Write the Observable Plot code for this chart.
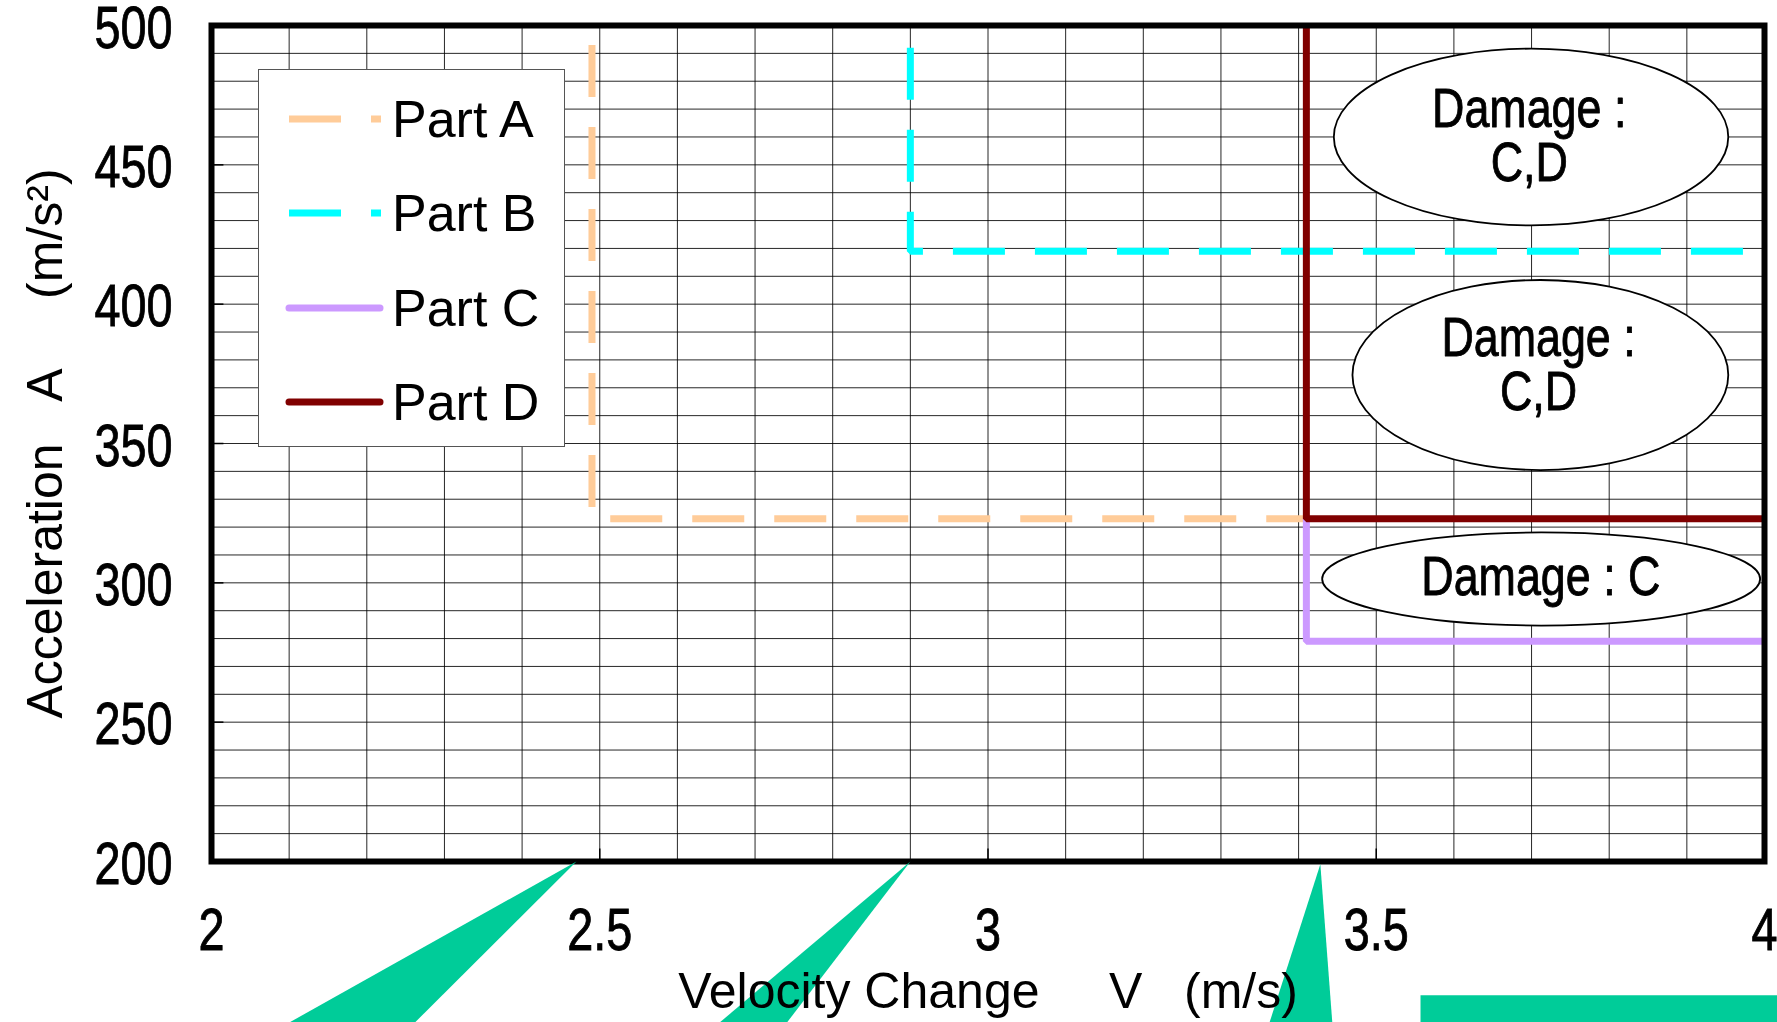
<!DOCTYPE html>
<html>
<head>
<meta charset="utf-8">
<script src="https://cdn.jsdelivr.net/npm/d3@7"></script>
<script src="https://cdn.jsdelivr.net/npm/@observablehq/plot@0.6"></script>
<style>
  html, body { margin: 0; padding: 0; background: #fff; overflow: hidden; }
  #wrap { position: relative; width: 1777px; height: 1022px; font-family: "Liberation Sans", Arial, sans-serif; }
  #legend { position: absolute; left: 258px; top: 69px; width: 307px; height: 378px; border: 1.5px solid #555; background: #fff; box-sizing: border-box; }
  .lrow { position: absolute; left: 0; width: 100%; height: 60px; }
  .lrow svg { position: absolute; left: 0; top: 0; }
  .lrow .ltxt { position: absolute; left: 133px; top: 0; height: 60px; line-height: 60px; font-size: 52px; color: #000; white-space: nowrap; }
</style>
</head>
<body>
<div id="wrap"></div>
<script>
// ---- data ----
const parts = ["Part A", "Part B", "Part C", "Part D"];
const partColors = ["#FFCC99", "#00FFFF", "#CC99FF", "#800000"];
const partDashes = ["52,30", "52,30", null, null];

const velA = [2.49, 2.49, 3.41];
const accA = [493, 323, 323];
const velB = [2.90, 2.90, 4.00];
const accB = [492, 419, 419];
const velC = [3.41, 3.41, 4.00];
const accC = [323, 279, 279];
const velD = [3.41, 3.41, 4.00];
const accD = [500, 323, 323];

const xTicks = [2, 2.5, 3, 3.5, 4];
const yTicks = [200, 250, 300, 350, 400, 450, 500];
const xTitle = "Velocity Change\u00a0\u00a0\u00a0\u00a0\u00a0V\u00a0\u00a0\u00a0(m/s)";
const yTitle = "Acceleration\u00a0\u00a0\u00a0A\u00a0\u00a0\u00a0\u00a0\u00a0(m/s\u00b2)";

// damage annotations (ellipses + labels)
const damageLabels = ["Damage :\nC,D", "Damage :\nC,D", "Damage : C"];
const labelV = [3.697, 3.709, 3.712];
const labelA = [460, 377.8, 302];
const ellipseV = [3.700, 3.712, 3.713];
const ellipseA = [459.8, 374.4, 301.2];
const ellipseRV = [0.254, 0.242, 0.282];
const ellipseRA = [31.7, 34.1, 16.7];

// green callout pointers cropped at bottom
const wedgeV = [[2.470, 2.086, 2.254], [2.900, 2.645, 2.735], [3.428, 3.360, 3.444], [3.557, 4.05, 4.05, 3.557]];
const wedgeA = [[200, 140, 140], [200, 140, 140], [199, 140, 140], [152, 152, 140, 140]];

// ---- build tables ----
const series = [[velA, accA], [velB, accB], [velC, accC], [velD, accD]];
const lineRows = parts.map((p, i) => series[i][0].map((v, j) => ({part: p, v, a: series[i][1][j]})));
const ellipses = ellipseV.map((v, i) => ({cv: v, ca: ellipseA[i], rv: ellipseRV[i], ra: ellipseRA[i]}));
const labels = damageLabels.map((t, i) => ({t, v: labelV[i], a: labelA[i]}));
const wedges = wedgeV.flatMap((vs, k) => vs.map((v, j) => ({k, v, a: wedgeA[k][j]})));

const ellipseMark = Plot.dot(ellipses, {
  x: "cv", y: "ca",
  render: (index, scales) => {
    const g = d3.create("svg:g");
    for (const i of index) {
      const d = ellipses[i];
      const cx = scales.x(d.cv), cy = scales.y(d.ca);
      const rx = scales.x(d.cv + d.rv) - cx;
      const ry = cy - scales.y(d.ca + d.ra);
      g.append("ellipse").attr("cx", cx).attr("cy", cy).attr("rx", rx).attr("ry", ry)
        .attr("fill", "#fff").attr("stroke", "#000").attr("stroke-width", 1.8);
    }
    return g.node();
  }
});

const plot = Plot.plot({
  width: 1777,
  height: 1022,
  marginLeft: 211,
  marginRight: 13,
  marginTop: 25,
  marginBottom: 161,
  style: {fontSize: "50px", fontFamily: "\"Liberation Sans\", Arial, sans-serif", background: "transparent", color: "#000"},
  x: {domain: [2, 4]},
  y: {domain: [200, 500]},
  marks: [
    Plot.gridX({interval: 0.1, stroke: "#000", strokeOpacity: 0.85, strokeWidth: 1}),
    Plot.gridY({interval: 10, stroke: "#000", strokeOpacity: 0.85, strokeWidth: 1}),
    Plot.ruleX(xTicks, {y1: 200, y2: 204.5, stroke: "#000", strokeWidth: 1.5}),
    Plot.ruleY(yTicks, {x1: 2, x2: 2.016, stroke: "#000", strokeWidth: 1.5}),
    ellipseMark,
    Plot.text(labels, {x: "v", y: "a", text: "t", lineHeight: 0.98, fontSize: 55, fill: "#000", stroke: "#000", strokeWidth: 0.9}),
    ...lineRows.map((rows, i) => Plot.line(rows, {
      x: "v", y: "a", stroke: partColors[i], strokeWidth: 7,
      strokeDasharray: partDashes[i] || undefined,
      strokeLinecap: "butt", strokeLinejoin: "miter"
    })),
    Plot.frame({stroke: "#000", strokeWidth: 6}),
    Plot.axisX({ticks: xTicks, tickFormat: d => String(d), tickSize: 0, tickPadding: 46, label: null, fontSize: 60}),
    Plot.axisY({ticks: yTicks, tickFormat: d => String(d), tickSize: 0, tickPadding: 39, dy: 3, label: null, fontSize: 60}),
    Plot.line(wedges, {x: "v", y: "a", z: "k", fill: "#00CC99", stroke: "none"}),
    Plot.text([xTitle], {frameAnchor: "bottom", lineAnchor: "middle", textAnchor: "middle", dy: 130, fontSize: 50, fill: "#000"}),
    Plot.text([yTitle], {frameAnchor: "left", lineAnchor: "middle", textAnchor: "middle", dx: -166, rotate: -90, fontSize: 50, fill: "#000"})
  ]
});

document.getElementById("wrap").appendChild(plot);

// condensed look (the reference uses a narrow face): squeeze glyphs horizontally
function condense(el, k) {
  const t = el.getAttribute("transform") || "";
  el.setAttribute("transform", (t + ` scale(${k},1)`).trim());
}
const tickStrings = new Set([...xTicks, ...yTicks].map(String));
d3.select(plot).selectAll("text").each(function () {
  const s = this.textContent;
  if (/^Damage/.test(s)) condense(this, 0.815);
  else if (tickStrings.has(s)) {
    condense(this, 0.78);
    this.setAttribute("stroke", "#000");
    this.setAttribute("stroke-width", "0.9");
  }
});

// ---- legend (HTML overlay) ----
const legend = d3.select("#wrap").append("div").attr("id", "legend");
const rowCenters = [48.5, 142.5, 237.5, 331.5];
parts.forEach((p, i) => {
  const row = legend.append("div").attr("class", "lrow").style("top", (rowCenters[i] - 30) + "px");
  const s = row.append("svg").attr("width", 130).attr("height", 60);
  const dashed = !!partDashes[i];
  s.append("line")
    .attr("x1", 30).attr("x2", dashed ? 122 : 121)
    .attr("y1", 30).attr("y2", 30)
    .attr("stroke", partColors[i]).attr("stroke-width", 7)
    .attr("stroke-dasharray", dashed ? partDashes[i] : null)
    .attr("stroke-linecap", dashed ? "butt" : "round");
  row.append("div").attr("class", "ltxt").text(p);
});
</script>
</body>
</html>
